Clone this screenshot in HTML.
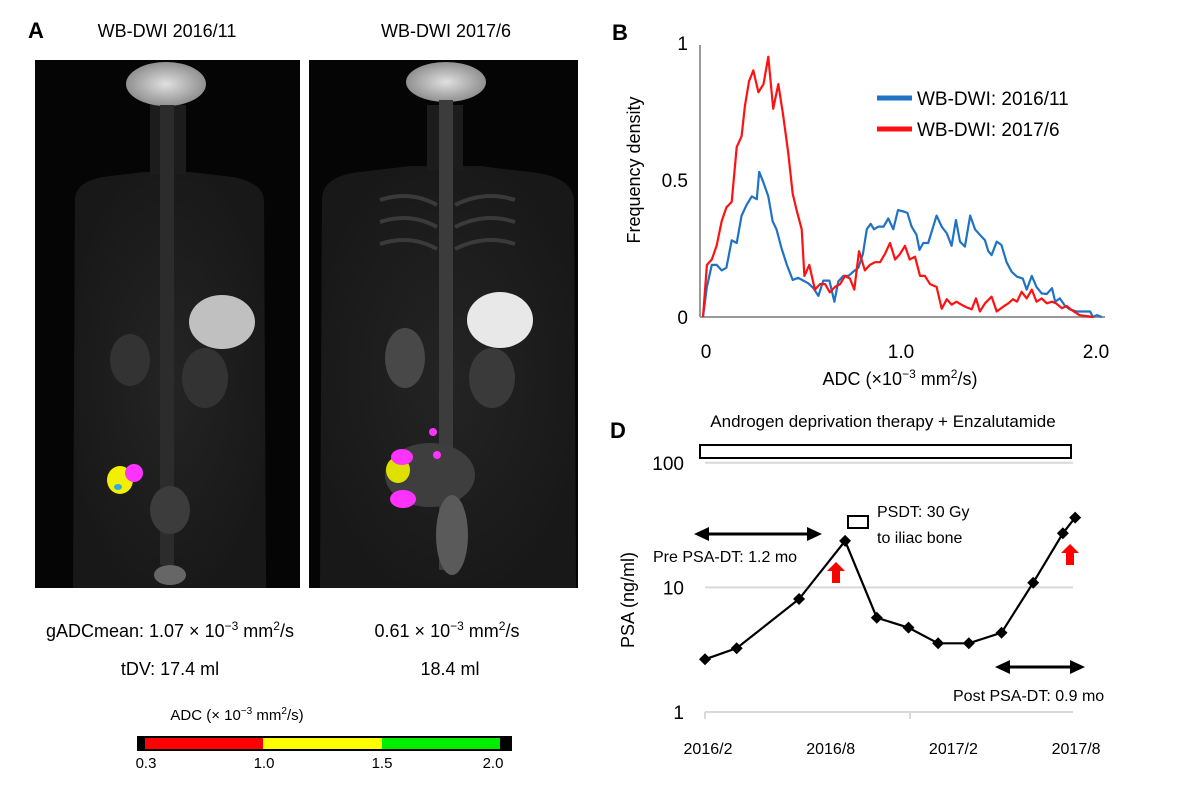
<!DOCTYPE html>
<html><head><meta charset="utf-8"><style>
body{margin:0;background:#fff}
svg{display:block;font-family:"Liberation Sans",sans-serif}
</style></head><body>
<svg id="fig" width="1200" height="789" viewBox="0 0 1200 789">
<defs>
<radialGradient id="bodyg" cx="50%" cy="50%" r="55%"><stop offset="0" stop-color="#242424"/><stop offset="1" stop-color="#181818"/></radialGradient>
<radialGradient id="headg"><stop offset="0" stop-color="#e0e0e0"/><stop offset="1" stop-color="#909090"/></radialGradient>
</defs>
<!-- Panel A -->
<text x="28" y="38" font-size="22" font-weight="bold">A</text>
<text x="167" y="37" font-size="18" text-anchor="middle">WB-DWI 2016/11</text>
<text x="446" y="37" font-size="18" text-anchor="middle">WB-DWI 2017/6</text>
<g>
<rect x="35" y="60" width="265" height="528" fill="#050505"/>
<path d="M75 200 Q75 180 110 176 L145 172 L190 172 L225 176 Q262 180 264 200 L266 588 L73 588 Z" fill="url(#bodyg)"/>
<rect x="150" y="105" width="36" height="70" fill="#1c1c1c"/>
<ellipse cx="166" cy="84" rx="40" ry="22" fill="url(#headg)"/>
<rect x="160" y="105" width="14" height="460" fill="#2c2c2c"/>
<ellipse cx="222" cy="322" rx="33" ry="27" fill="#c0c0c0"/>
<ellipse cx="130" cy="360" rx="20" ry="26" fill="#333"/>
<ellipse cx="205" cy="378" rx="23" ry="30" fill="#333"/>
<ellipse cx="170" cy="510" rx="20" ry="24" fill="#3c3c3c"/>
<ellipse cx="170" cy="575" rx="16" ry="10" fill="#666"/>
<ellipse cx="120" cy="480" rx="13" ry="14" fill="#f0f000"/>
<ellipse cx="134" cy="473" rx="9" ry="9" fill="#ff33ff"/>
<ellipse cx="118" cy="487" rx="4" ry="3" fill="#33aadd"/>
</g>
<g>
<rect x="309" y="60" width="269" height="528" fill="#050505"/>
<path d="M322 200 Q322 176 360 172 L410 166 L480 166 L530 172 Q572 176 574 200 L576 588 L320 588 Z" fill="url(#bodyg)"/>
<rect x="427" y="105" width="36" height="65" fill="#1c1c1c"/>
<ellipse cx="446" cy="82" rx="40" ry="20" fill="url(#headg)"/>
<rect x="439" y="100" width="14" height="470" fill="#3c3c3c"/>
<g stroke="#3a3a3a" stroke-width="4" fill="none"><path d="M380 200 Q410 190 437 205"/><path d="M380 222 Q410 212 437 227"/><path d="M380 244 Q410 234 437 249"/><path d="M455 205 Q485 190 515 200"/><path d="M455 227 Q485 212 515 222"/><path d="M455 249 Q485 234 515 244"/></g>
<ellipse cx="500" cy="320" rx="33" ry="28" fill="#e8e8e8"/>
<ellipse cx="405" cy="358" rx="20" ry="30" fill="#484848"/>
<ellipse cx="492" cy="378" rx="23" ry="30" fill="#3a3a3a"/>
<ellipse cx="430" cy="475" rx="45" ry="32" fill="#3e3e3e"/>
<ellipse cx="452" cy="535" rx="16" ry="40" fill="#5a5a5a"/>
<ellipse cx="398" cy="470" rx="12" ry="13" fill="#e0e000"/>
<ellipse cx="402" cy="457" rx="11" ry="8" fill="#ff33ff"/>
<ellipse cx="403" cy="499" rx="13" ry="9" fill="#ff33ff"/>
<circle cx="433" cy="432" r="4" fill="#ff33ff"/><circle cx="437" cy="455" r="4" fill="#ff33ff"/>
</g>
<text x="170" y="637" font-size="18" text-anchor="middle">gADCmean: 1.07 × 10<tspan dy="-7" font-size="12">−3</tspan><tspan dy="7"> mm</tspan><tspan dy="-7" font-size="12">2</tspan><tspan dy="7">/s</tspan></text>
<text x="447" y="637" font-size="18" text-anchor="middle">0.61 × 10<tspan dy="-7" font-size="12">−3</tspan><tspan dy="7"> mm</tspan><tspan dy="-7" font-size="12">2</tspan><tspan dy="7">/s</tspan></text>
<text x="170" y="675" font-size="18" text-anchor="middle">tDV: 17.4 ml</text>
<text x="450" y="675" font-size="18" text-anchor="middle">18.4 ml</text>
<text x="237" y="720" font-size="15" text-anchor="middle">ADC (× 10<tspan dy="-6" font-size="10">−3</tspan><tspan dy="6"> mm</tspan><tspan dy="-6" font-size="10">2</tspan><tspan dy="6">/s)</tspan></text>
<g>
<rect x="137" y="736" width="375" height="15" fill="#000"/>
<rect x="145" y="738" width="118" height="11" fill="#ff0000"/>
<rect x="263" y="738" width="119" height="11" fill="#ffff00"/>
<rect x="382" y="738" width="118" height="11" fill="#00ee00"/>
</g>
<g font-size="15" text-anchor="middle">
<text x="146" y="768">0.3</text><text x="264" y="768">1.0</text><text x="382" y="768">1.5</text><text x="493" y="768">2.0</text>
</g>
<!-- Panel B -->
<text x="612" y="40" font-size="22" font-weight="bold">B</text>
<g id="chartB"></g>
<!-- Panel D -->
<text x="610" y="438" font-size="22" font-weight="bold">D</text>
<g id="chartD"></g>
</svg>
<script>
const NS="http://www.w3.org/2000/svg";
function mk(parent,tag,attrs,text){const e=document.createElementNS(NS,tag);for(const k in attrs)e.setAttribute(k,attrs[k]);if(text!==undefined)e.textContent=text;parent.appendChild(e);return e;}

// ---- Chart B data ----
const redADC=[0,0.02,0.045,0.07,0.096,0.12,0.147,0.173,0.198,0.215,0.236,0.258,0.284,0.31,0.335,0.36,0.386,0.41,0.437,0.46,0.48,0.506,0.52,0.545,0.574,0.6,0.626,0.65,0.677,0.703,0.728,0.754,0.776,0.8,0.83,0.856,0.882,0.908,0.933,0.959,0.985,1.01,1.036,1.06,1.087,1.113,1.138,1.164,1.198,1.224,1.25,1.275,1.3,1.327,1.352,1.378,1.4,1.42,1.446,1.48,1.506,1.54,1.566,1.59,1.61,1.634,1.66,1.686,1.71,1.737,1.763,1.79,1.81,1.84,1.865,1.89,1.93,2.0];
const redVal=[0,0.19,0.21,0.26,0.35,0.40,0.42,0.62,0.66,0.77,0.86,0.90,0.82,0.85,0.95,0.76,0.85,0.74,0.60,0.45,0.39,0.32,0.15,0.19,0.10,0.12,0.12,0.09,0.11,0.12,0.15,0.14,0.10,0.24,0.17,0.19,0.20,0.20,0.23,0.27,0.21,0.23,0.26,0.21,0.22,0.15,0.15,0.12,0.11,0.03,0.065,0.045,0.056,0.044,0.035,0.028,0.068,0.02,0.05,0.074,0.02,0.038,0.05,0.065,0.056,0.092,0.068,0.10,0.056,0.068,0.05,0.056,0.05,0.032,0.04,0.026,0.007,0];
const blueADC=[0,0.02,0.045,0.07,0.096,0.12,0.147,0.173,0.198,0.224,0.25,0.276,0.288,0.31,0.335,0.357,0.377,0.403,0.43,0.46,0.488,0.515,0.54,0.566,0.592,0.617,0.648,0.674,0.694,0.72,0.746,0.77,0.797,0.82,0.84,0.86,0.877,0.9,0.926,0.95,0.976,1.0,1.028,1.048,1.07,1.095,1.11,1.13,1.155,1.198,1.224,1.25,1.275,1.297,1.318,1.343,1.37,1.395,1.42,1.446,1.463,1.48,1.506,1.53,1.557,1.583,1.61,1.64,1.66,1.686,1.71,1.737,1.763,1.79,1.806,1.83,1.857,1.88,1.917,1.985,2.0,2.02,2.045];
const blueVal=[0,0.11,0.19,0.19,0.17,0.18,0.28,0.27,0.37,0.41,0.44,0.43,0.53,0.49,0.44,0.35,0.32,0.25,0.19,0.135,0.143,0.133,0.123,0.105,0.077,0.133,0.133,0.056,0.13,0.15,0.15,0.165,0.18,0.23,0.32,0.34,0.32,0.33,0.33,0.36,0.32,0.39,0.385,0.38,0.33,0.30,0.245,0.27,0.27,0.37,0.33,0.305,0.26,0.354,0.275,0.257,0.37,0.32,0.30,0.28,0.24,0.226,0.275,0.263,0.20,0.165,0.147,0.14,0.10,0.15,0.11,0.086,0.084,0.105,0.056,0.068,0.04,0.028,0.02,0.02,0,0.007,0];
const bXTicks=[0,1.0,2.0];
const bXLabels=["0","1.0","2.0"];
const bYTicks=[0,0.5,1];
const bYLabels=["0","0.5","1"];

const bx=v=>703+v*195, by=v=>317-v*274;
const B=document.getElementById('chartB');
let e;
e=mk(B,'line',{x1:700,y1:45,x2:700,y2:317,stroke:'#999','stroke-width':2});


e=mk(B,'line',{x1:700,y1:317,x2:1105,y2:317,stroke:'#999','stroke-width':2});


bYTicks.forEach((t,i)=>{
  e=mk(B,'text',{x:688,y:by(t)+7,'font-size':19,'text-anchor':'end'},bYLabels[i]);
  
  
});
bXTicks.forEach((t,i)=>{
  e=mk(B,'text',{x:bx(t)+3,y:358,'font-size':19,'text-anchor':'middle'},bXLabels[i]);
  
  
});
e=mk(B,'text',{x:900,y:385,'font-size':18,'text-anchor':'middle'});
e.innerHTML='ADC (×10<tspan dy="-7" font-size="12">−3</tspan><tspan dy="7"> mm</tspan><tspan dy="-7" font-size="12">2</tspan><tspan dy="7">/s)</tspan>';


e=mk(B,'text',{x:0,y:0,'font-size':18,'text-anchor':'middle',transform:'translate(640,170) rotate(-90)'},'Frequency density');


function ptsOf(xs,ys){return xs.map((x,i)=>bx(x).toFixed(1)+','+by(ys[i]).toFixed(1)).join(' ');}
e=mk(B,'polyline',{points:ptsOf(blueADC,blueVal),fill:'none',stroke:'#1f72c4','stroke-width':2.2,'stroke-linejoin':'round'});


e=mk(B,'polyline',{points:ptsOf(redADC,redVal),fill:'none',stroke:'#ff1111','stroke-width':2.2,'stroke-linejoin':'round'});


const legNames=["WB-DWI: 2016/11","WB-DWI: 2017/6"];
const legColors=['#1f72c4','#ff1111'];
legNames.forEach((n,i)=>{
  const y=98+i*31;
  e=mk(B,'line',{x1:877,y1:y,x2:912,y2:y,stroke:legColors[i],'stroke-width':5});
  
  
  e=mk(B,'text',{x:917,y:y+7,'font-size':19},n);
  
  
});

// ---- Chart D data ----
const psaMonths=[0,1.55,4.6,6.85,8.4,9.95,11.4,12.9,14.5,16.05,17.5,18.1];
const psaValues=[2.65,3.25,8.07,23.6,5.71,4.75,3.56,3.56,4.33,10.9,27.2,36.3];
const dYTicks=[1,10,100];
const dYLabels=["1","10","100"];
const dXTicks=[0,6,12,18];
const dXLabels=["2016/2","2016/8","2017/2","2017/8"];

const dx=m=>705+m*20.45, dy=v=>712-Math.log10(v)*124.6;
const D=document.getElementById('chartD');
dYTicks.forEach((t,i)=>{
  e=mk(D,'line',{x1:705,y1:dy(t),x2:1073,y2:dy(t),stroke:'#d9d9d9','stroke-width':2});
  
  
  e=mk(D,'text',{x:684,y:dy(t)+7,'font-size':19,'text-anchor':'end'},dYLabels[i]);
  
  
});
e=mk(D,'path',{d:'M705 712 v7 M910 712 v7',stroke:'#d9d9d9','stroke-width':2});


dXTicks.forEach((t,i)=>{
  e=mk(D,'text',{x:dx(t)+3,y:754,'font-size':16,'text-anchor':'middle'},dXLabels[i]);
  
  
});
e=mk(D,'text',{x:0,y:0,'font-size':18,'text-anchor':'middle',transform:'translate(634,600) rotate(-90)'},'PSA (ng/ml)');


e=mk(D,'text',{x:883,y:427,'font-size':17,'text-anchor':'middle'},'Androgen deprivation therapy + Enzalutamide');


e=mk(D,'rect',{x:700,y:445,width:371,height:13,fill:'#fff',stroke:'#000','stroke-width':2});


e=mk(D,'rect',{x:848,y:516,width:20,height:12,fill:'#fff',stroke:'#000','stroke-width':2});


e=mk(D,'text',{x:877,y:517,'font-size':16},'PSDT: 30 Gy');


e=mk(D,'text',{x:877,y:543,'font-size':16},'to iliac bone');


function dbl(x1,x2,y,name){
  const g=mk(D,'g',{});
  
  
  mk(g,'line',{x1:x1+10,y1:y,x2:x2-10,y2:y,stroke:'#000','stroke-width':3});
  mk(g,'polygon',{points:`${x1},${y} ${x1+15},${y-7} ${x1+15},${y+7}`,fill:'#000'});
  mk(g,'polygon',{points:`${x2},${y} ${x2-15},${y-7} ${x2-15},${y+7}`,fill:'#000'});
}
dbl(694,822,534,'pre-psadt-arrow');
dbl(995,1085,667,'post-psadt-arrow');
e=mk(D,'text',{x:653,y:562,'font-size':16},'Pre PSA-DT: 1.2 mo');


e=mk(D,'text',{x:953,y:701,'font-size':16},'Post PSA-DT: 0.9 mo');


function upArrow(cx,top,name){
  e=mk(D,'polygon',{points:`${cx},${top} ${cx+9},${top+9} ${cx+4},${top+9} ${cx+4},${top+21} ${cx-4},${top+21} ${cx-4},${top+9} ${cx-9},${top+9}`,fill:'#ff0000'});
  
  
}
upArrow(836,562,'red-arrow-1');
upArrow(1070,544,'red-arrow-2');
e=mk(D,'polyline',{points:psaMonths.map((m,i)=>dx(m).toFixed(1)+','+dy(psaValues[i]).toFixed(1)).join(' '),fill:'none',stroke:'#000','stroke-width':2.2});


psaMonths.forEach((m,i)=>{
  const x=dx(m),y=dy(psaValues[i]);
  e=mk(D,'polygon',{points:`${x},${y-6} ${x+6},${y} ${x},${y+6} ${x-6},${y}`,fill:'#000'});
  
  
});
</script>
</body></html>
